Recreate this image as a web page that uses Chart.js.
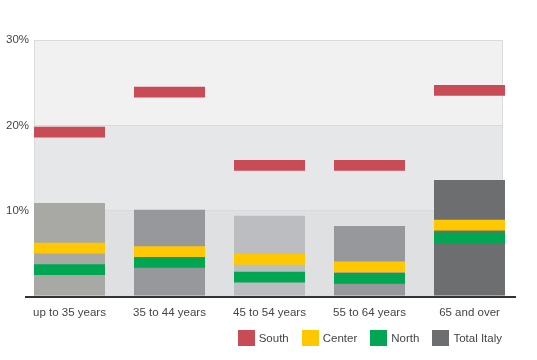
<!DOCTYPE html>
<html>
<head>
<meta charset="utf-8">
<script src="https://cdn.jsdelivr.net/npm/chart.js@4"></script>
<style>
  html, body { margin: 0; padding: 0; background: #fff; }
  #wrap { position: relative; width: 537px; height: 360px; font-family: "Liberation Sans", Arial, sans-serif; }
  #c { position: absolute; left: 0; top: 0; }
  #legend { position: absolute; right: 35px; top: 330px; display: flex; align-items: center; font-size: 11.5px; color: #444; }
  #legend .item { display: flex; align-items: center; margin-left: 13px; }
  #legend .box { width: 17px; height: 16px; margin-right: 4px; }
</style>
</head>
<body>
<div id="wrap">
  <canvas id="c" width="537" height="360"></canvas>
  <div id="legend"></div>
</div>
<script>
// ---- data ----
const categories = ["up to 35 years", "35 to 44 years", "45 to 54 years", "55 to 64 years", "65 and over"];
const south      = [19.2, 23.9, 15.3, 15.3, 24.1];
const center     = [5.6, 5.2, 4.3, 3.4, 8.3];
const north      = [3.1, 3.95, 2.2, 2.07, 6.8];
const totalItaly = [10.9, 10.1, 9.4, 8.2, 13.6];
const yTicks     = [0, 10, 20, 30];
const seriesNames = ["South", "Center", "North", "Total Italy"];

// ---- styles ----
const colors = { South: "#c84b55", Center: "#ffc800", North: "#00a651", "Total Italy": "#6d6e70" };
const totalColors = ["#a8a8a5", "#97989b", "#bcbdc0", "#97989b", "#6d6e70"];
const markerHalf = 0.63; // half thickness of marker bars in % units
const bandColors = ["#dfe0e2", "#e6e7e9", "#f1f1f1"];

const markerData = arr => arr.map((v, i) => ({ x: i, y: [v - markerHalf, v + markerHalf] }));
const totalData = totalItaly.map((v, i) => ({ x: i, y: [0, v] }));

const bandsPlugin = {
  id: 'bands',
  beforeDraw(chart) {
    const { ctx, chartArea, scales } = chart;
    const y = scales.y;
    ctx.save();
    for (let k = 0; k < yTicks.length - 1; k++) {
      const top = y.getPixelForValue(yTicks[k + 1]);
      const bot = y.getPixelForValue(yTicks[k]);
      ctx.fillStyle = bandColors[k];
      ctx.fillRect(chartArea.left, top, chartArea.right - chartArea.left, bot - top);
    }
    ctx.strokeStyle = "#dadbdd";
    ctx.lineWidth = 1;
    ctx.beginPath();
    ctx.moveTo(chartArea.left + 0.5, chartArea.top);
    ctx.lineTo(chartArea.left + 0.5, chartArea.bottom);
    ctx.moveTo(chartArea.right - 0.5, chartArea.top);
    ctx.lineTo(chartArea.right - 0.5, chartArea.bottom);
    ctx.stroke();
    ctx.restore();
  },
  afterDatasetsDraw(chart) {
    const { ctx, chartArea } = chart;
    ctx.save();
    ctx.fillStyle = "#333333";
    ctx.fillRect(chartArea.left - 9, chartArea.bottom, chartArea.right - chartArea.left + 22, 2);
    ctx.restore();
  }
};

const common = { grouped: false, barPercentage: 0.71, categoryPercentage: 1, clip: false, borderWidth: 0 };

new Chart(document.getElementById('c'), {
  type: 'bar',
  data: {
    datasets: [
      { label: "South", data: markerData(south), backgroundColor: colors.South, ...common },
      { label: "Center", data: markerData(center), backgroundColor: colors.Center, ...common },
      { label: "North", data: markerData(north), backgroundColor: colors.North, ...common },
      { label: "Total Italy", data: totalData, backgroundColor: totalColors, ...common }
    ]
  },
  options: {
    responsive: false,
    devicePixelRatio: 1,
    animation: false,
    layout: { padding: { top: 40, right: 34, bottom: 24, left: 0 } },
    plugins: { legend: { display: false }, tooltip: { enabled: false } },
    scales: {
      x: {
        type: 'linear',
        offset: false,
        min: -0.355,
        max: 4.335,
        grid: { display: false, drawTicks: false },
        border: { display: false },
        afterBuildTicks(scale) { scale.ticks = categories.map((c, i) => ({ value: i })); },
        afterFit(scale) { scale.height = 40; scale.paddingLeft = 0; scale.paddingRight = 0; },
        ticks: {
          autoSkip: false,
          maxRotation: 0,
          padding: 10,
          color: "#444",
          font: { family: "'Liberation Sans', Arial, sans-serif", size: 11.5 },
          callback: v => categories[v]
        }
      },
      y: {
        min: yTicks[0],
        max: yTicks[yTicks.length - 1],
        afterBuildTicks(scale) { scale.ticks = yTicks.map(v => ({ value: v })); },
        afterFit(scale) { scale.width = 34; },
        grid: { color: "#d9dadc", drawTicks: false, lineWidth: 1 },
        border: { display: false },
        ticks: {
          padding: 5,
          color: "#444",
          font: { family: "'Liberation Sans', Arial, sans-serif", size: 11.5 },
          callback: v => v === 0 ? '' : v + '%'
        }
      }
    }
  },
  plugins: [bandsPlugin]
});

// legend
const lg = document.getElementById('legend');
seriesNames.forEach(n => {
  const it = document.createElement('div');
  it.className = 'item';
  const b = document.createElement('div');
  b.className = 'box';
  b.style.background = colors[n];
  const t = document.createElement('span');
  t.textContent = n;
  it.appendChild(b); it.appendChild(t);
  lg.appendChild(it);
});
</script>
</body>
</html>
